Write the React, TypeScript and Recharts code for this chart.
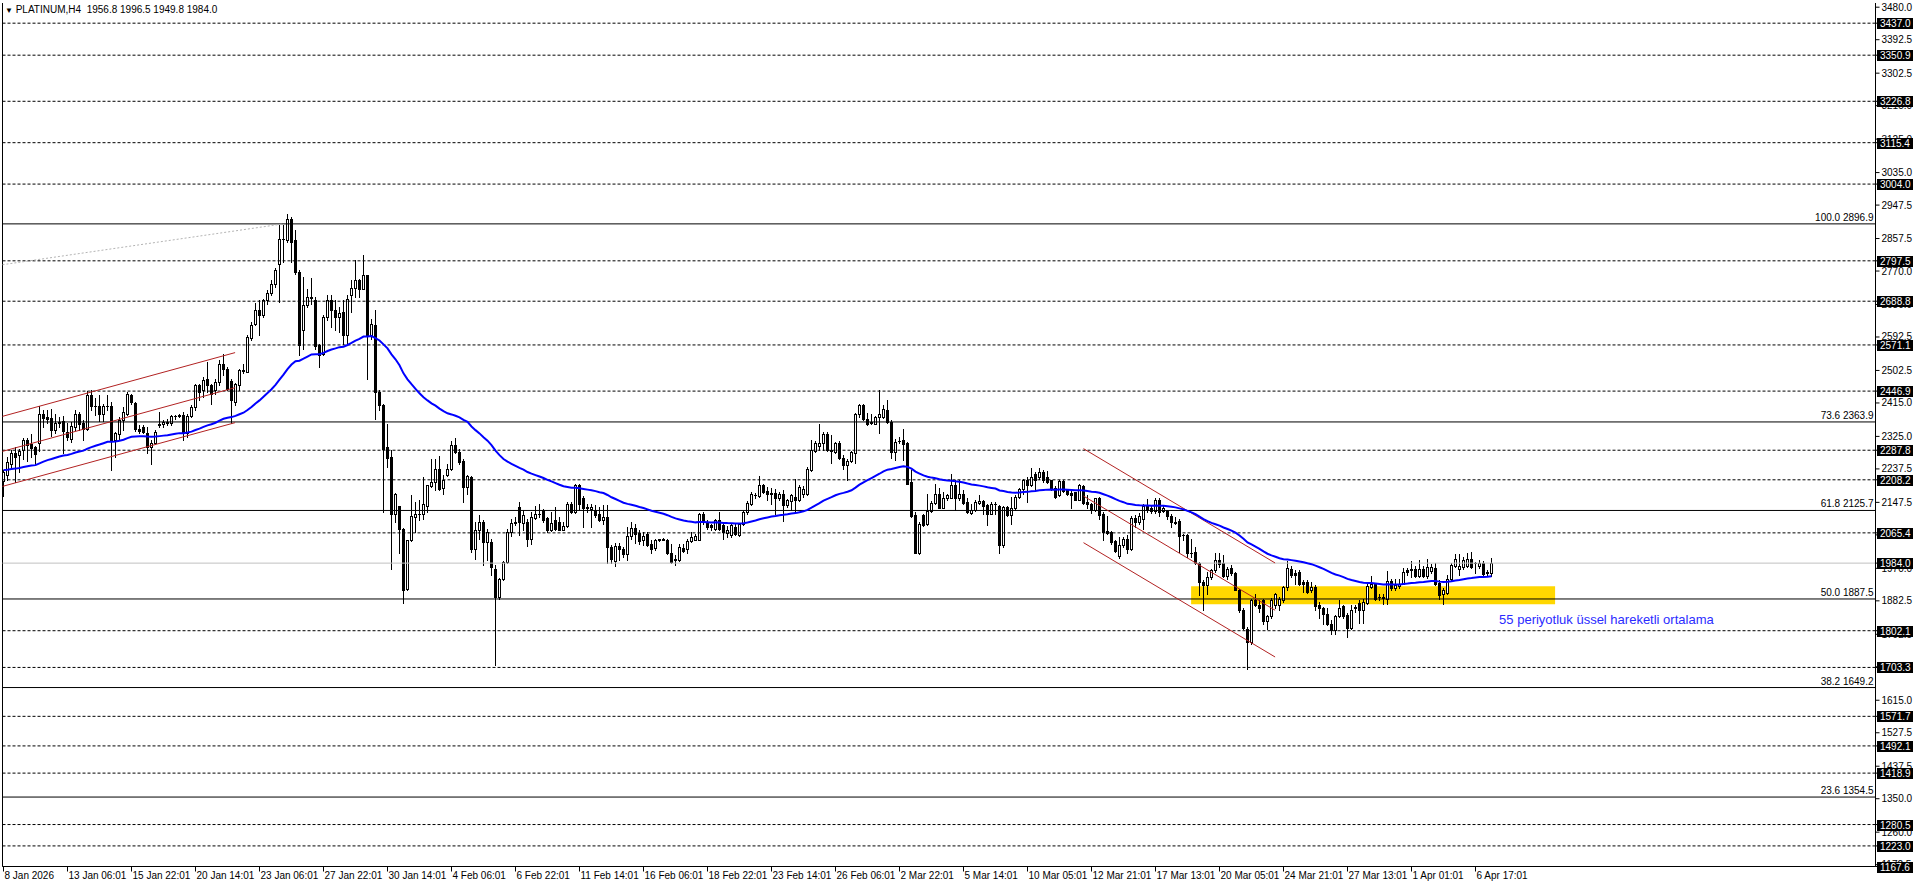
import { ComposedChart, Bar, Line, XAxis, YAxis, ReferenceLine, ReferenceArea, ReferenceDot } from 'recharts';

const FONT = '"Liberation Sans", Arial, sans-serif';

// time axis labels, one every 16 H4 bars
const timeLabels = [
  '8 Jan 2026', '13 Jan 06:01', '15 Jan 22:01', '20 Jan 14:01', '23 Jan 06:01', '27 Jan 22:01',
  '30 Jan 14:01', '4 Feb 06:01', '6 Feb 22:01', '11 Feb 14:01', '16 Feb 06:01', '18 Feb 22:01',
  '23 Feb 14:01', '26 Feb 06:01', '2 Mar 22:01', '5 Mar 14:01', '10 Mar 05:01', '12 Mar 21:01',
  '17 Mar 13:01', '20 Mar 05:01', '24 Mar 21:01', '27 Mar 13:01', '1 Apr 01:01', '6 Apr 17:01',
];
const TIME_STEP = 16;

const priceTicks = [
  3480.0, 3392.5, 3302.5, 3215.0, 3125.0, 3035.0, 2947.5, 2857.5, 2770.0, 2680.0, 2592.5, 2502.5, 2415.0,
  2325.0, 2237.5, 2147.5, 2060.0, 1970.0, 1882.5, 1792.5, 1705.0, 1615.0, 1527.5, 1437.5, 1350.0, 1260.0, 1172.5,
];

// horizontal line objects (dashed, boxed price on the axis)
const levelPrices = [
  3437.0, 3350.9, 3226.8, 3115.4, 3004.0, 2797.5, 2688.8, 2571.1, 2446.9, 2287.8, 2208.2, 2065.4,
  1802.1, 1703.3, 1571.7, 1492.1, 1418.9, 1280.5, 1223.0, 1167.6,
];

// fibonacci retracement levels
const fibPercents = ['100.0', '73.6', '61.8', '50.0', '38.2', '23.6'];
const fibPrices = [2896.9, 2363.9, 2125.7, 1887.5, 1649.2, 1354.5];

const bidPrice = 1984.0;
const EMA_PERIOD = 55;
const EMA_SEED = 2235;

const opens = [
  2205, 2221, 2252, 2280, 2275, 2288, 2314, 2305, 2296, 2306,
  2386, 2377, 2375, 2343, 2360, 2366, 2337, 2319, 2350, 2384,
  2360, 2346, 2436, 2406, 2406, 2386, 2406, 2406, 2316, 2332,
  2368, 2386, 2436, 2415, 2346, 2350, 2333, 2297, 2307, 2357,
  2359, 2362, 2360, 2379, 2381, 2382, 2333, 2379, 2404, 2462,
  2449, 2480, 2462, 2449, 2471, 2520, 2507, 2475, 2417, 2464,
  2504, 2498, 2590, 2628, 2666, 2651, 2691, 2711, 2736, 2790,
  2857, 2853, 2911, 2853, 2768, 2610, 2678, 2700, 2693, 2570,
  2546, 2646, 2691, 2664, 2645, 2659, 2597, 2705, 2725, 2745,
  2723, 2758, 2597, 2624, 2445, 2409, 2297, 2270, 2117, 2137,
  2077, 1915, 2045, 2108, 2117, 2115, 2139, 2191, 2202, 2238,
  2187, 2220, 2236, 2301, 2283, 2259, 2189, 2216, 2023, 2074,
  2095, 2041, 2041, 1969, 1893, 1942, 1987, 2068, 2092, 2135,
  2093, 2095, 2050, 2106, 2115, 2128, 2106, 2072, 2101, 2095,
  2074, 2083, 2144, 2122, 2193, 2158, 2133, 2129, 2128, 2115,
  2101, 2108, 2027, 1990, 2029, 2023, 2008, 2056, 2079, 2065,
  2047, 2063, 2036, 2026, 2047, 2048, 2047, 2010, 1996, 1993,
  2026, 2023, 2044, 2047, 2047, 2117, 2095, 2086, 2077, 2101,
  2086, 2066, 2059, 2081, 2059, 2088, 2122, 2144, 2167, 2164,
  2193, 2178, 2171, 2173, 2158, 2169, 2140, 2151, 2163, 2153,
  2171, 2171, 2234, 2286, 2298, 2306, 2332, 2289, 2283, 2307,
  2268, 2247, 2259, 2279, 2386, 2409, 2373, 2362, 2359, 2376,
  2377, 2397, 2364, 2283, 2312, 2315, 2306, 2202, 2113, 2011,
  2113, 2088, 2124, 2146, 2169, 2133, 2158, 2160, 2193, 2160,
  2171, 2149, 2119, 2128, 2146, 2151, 2140, 2117, 2143, 2137,
  2032, 2135, 2113, 2131, 2162, 2184, 2209, 2193, 2223, 2216,
  2229, 2216, 2207, 2187, 2167, 2205, 2180, 2173, 2175, 2155,
  2191, 2149, 2142, 2126, 2158, 2117, 2070, 2068, 2043, 2002,
  2032, 2050, 2023, 2106, 2095, 2104, 2137, 2133, 2124, 2153,
  2124, 2124, 2110, 2095, 2097, 2061, 2061, 2011, 2014, 1984,
  1933, 1924, 1947, 1965, 1992, 1984, 1949, 1972, 1957, 1913,
  1859, 1808, 1772, 1884, 1871, 1884, 1828, 1841, 1871, 1871,
  1884, 1920, 1969, 1957, 1960, 1933, 1933, 1911, 1920, 1871,
  1862, 1848, 1821, 1805, 1841, 1868, 1844, 1810, 1864, 1877,
  1857, 1877, 1920, 1927, 1893, 1893, 1888, 1936, 1916, 1922,
  1929, 1965, 1965, 1969, 1949, 1967, 1949, 1963, 1972, 1931,
  1900, 1904, 1942, 1976, 1969, 1974, 1976, 1996, 1983, 1976,
  1983, 1960, 1956.8,
];

const highs = [
  2235, 2270, 2288, 2296, 2290, 2320, 2320, 2332, 2300, 2406,
  2395, 2395, 2400, 2385, 2377, 2381, 2360, 2365, 2395, 2391,
  2368, 2447, 2449, 2427, 2436, 2413, 2436, 2418, 2337, 2377,
  2404, 2445, 2440, 2418, 2355, 2355, 2350, 2314, 2341, 2391,
  2368, 2372, 2382, 2382, 2384, 2391, 2386, 2409, 2467, 2467,
  2485, 2525, 2467, 2480, 2530, 2548, 2512, 2480, 2470, 2507,
  2520, 2597, 2633, 2683, 2691, 2696, 2718, 2745, 2777, 2893,
  2893, 2923, 2916, 2880, 2772, 2754, 2723, 2752, 2700, 2575,
  2651, 2705, 2705, 2691, 2673, 2691, 2705, 2745, 2799, 2749,
  2812, 2760, 2642, 2664, 2449, 2413, 2359, 2288, 2173, 2139,
  2079, 2047, 2166, 2148, 2153, 2216, 2195, 2265, 2265, 2271,
  2220, 2252, 2313, 2322, 2292, 2265, 2220, 2218, 2095, 2113,
  2099, 2077, 2050, 1978, 1945, 1990, 2077, 2104, 2108, 2149,
  2127, 2104, 2122, 2137, 2142, 2130, 2108, 2122, 2135, 2108,
  2095, 2149, 2149, 2198, 2198, 2164, 2144, 2144, 2140, 2135,
  2140, 2140, 2032, 2038, 2038, 2028, 2081, 2095, 2090, 2072,
  2068, 2068, 2045, 2050, 2050, 2051, 2050, 2035, 2005, 2036,
  2035, 2050, 2068, 2062, 2119, 2122, 2099, 2090, 2104, 2122,
  2090, 2083, 2090, 2088, 2092, 2126, 2151, 2175, 2172, 2218,
  2198, 2189, 2187, 2184, 2175, 2182, 2157, 2171, 2211, 2194,
  2191, 2243, 2315, 2313, 2359, 2337, 2337, 2328, 2310, 2313,
  2274, 2263, 2286, 2388, 2413, 2413, 2388, 2386, 2379, 2449,
  2409, 2424, 2368, 2319, 2323, 2346, 2310, 2234, 2122, 2095,
  2117, 2171, 2151, 2196, 2187, 2175, 2171, 2225, 2207, 2209,
  2180, 2158, 2144, 2155, 2167, 2153, 2144, 2149, 2149, 2140,
  2137, 2137, 2162, 2166, 2187, 2211, 2216, 2241, 2229, 2241,
  2234, 2232, 2209, 2191, 2209, 2207, 2184, 2180, 2176, 2196,
  2193, 2167, 2146, 2160, 2162, 2121, 2110, 2070, 2046, 2053,
  2054, 2059, 2110, 2113, 2119, 2142, 2157, 2140, 2158, 2158,
  2140, 2126, 2117, 2108, 2104, 2063, 2063, 2050, 2027, 1987,
  1938, 1960, 1969, 2010, 2011, 2005, 1974, 1978, 1960, 1915,
  1862, 1812, 1888, 1902, 1884, 1888, 1844, 1889, 1904, 1893,
  1922, 1990, 1975, 1965, 1966, 1938, 1938, 1933, 1924, 1880,
  1866, 1862, 1830, 1844, 1884, 1871, 1850, 1871, 1870, 1884,
  1888, 1927, 1949, 1931, 1902, 1902, 1963, 1942, 1942, 1942,
  1972, 1972, 1990, 1975, 1992, 1976, 1994, 1981, 1983, 1938,
  1918, 1951, 1983, 2008, 2008, 2001, 2011, 2014, 1987, 1992,
  1990, 1966, 1996.5,
];

const lows = [
  2164, 2207, 2243, 2202, 2229, 2265, 2260, 2270, 2252, 2286,
  2350, 2360, 2325, 2335, 2350, 2279, 2314, 2310, 2341, 2341,
  2316, 2341, 2395, 2382, 2366, 2366, 2395, 2234, 2270, 2319,
  2341, 2382, 2413, 2340, 2335, 2333, 2279, 2252, 2305, 2350,
  2350, 2355, 2355, 2373, 2378, 2315, 2323, 2377, 2395, 2422,
  2431, 2445, 2413, 2440, 2462, 2490, 2449, 2360, 2410, 2450,
  2495, 2498, 2585, 2625, 2597, 2645, 2682, 2705, 2727, 2687,
  2794, 2848, 2794, 2763, 2543, 2561, 2673, 2682, 2561, 2512,
  2543, 2637, 2619, 2610, 2606, 2573, 2575, 2660, 2700, 2700,
  2722, 2480, 2588, 2373, 2395, 2122, 2243, 1969, 2095, 2010,
  1878, 1912, 2043, 2068, 2099, 2104, 2121, 2189, 2180, 2180,
  2171, 2218, 2234, 2281, 2252, 2148, 2171, 2014, 1996, 2050,
  1978, 1992, 1951, 1710, 1888, 1938, 1984, 2058, 2086, 2059,
  2073, 2029, 2036, 2104, 2108, 2095, 2068, 2070, 2074, 2072,
  2072, 2081, 2119, 2120, 2126, 2081, 2122, 2081, 2108, 2097,
  2090, 1984, 1984, 1975, 1993, 2000, 1992, 2050, 2038, 2036,
  2032, 2029, 2011, 2018, 2044, 2045, 2008, 1983, 1978, 1991,
  2014, 2011, 2041, 2045, 2045, 2090, 2077, 2074, 2074, 2074,
  2050, 2054, 2054, 2059, 2056, 2086, 2117, 2140, 2160, 2162,
  2173, 2153, 2144, 2115, 2154, 2097, 2135, 2126, 2122, 2150,
  2162, 2167, 2232, 2284, 2288, 2288, 2286, 2254, 2280, 2265,
  2238, 2207, 2256, 2254, 2377, 2370, 2355, 2359, 2358, 2334,
  2375, 2361, 2268, 2261, 2307, 2261, 2196, 2108, 2010, 2008,
  2083, 2086, 2122, 2144, 2131, 2131, 2155, 2158, 2128, 2153,
  2142, 2119, 2117, 2124, 2142, 2117, 2086, 2115, 2117, 2011,
  2027, 2110, 2088, 2128, 2160, 2171, 2149, 2191, 2180, 2211,
  2202, 2200, 2182, 2158, 2164, 2175, 2167, 2133, 2153, 2153,
  2144, 2131, 2119, 2124, 2104, 2047, 2063, 2036, 2014, 1999,
  2028, 2011, 2019, 2081, 2090, 2077, 2122, 2120, 2119, 2110,
  2122, 2104, 2081, 2090, 2014, 2045, 2001, 2000, 1982, 1897,
  1857, 1902, 1942, 1960, 1974, 1947, 1942, 1951, 1911, 1853,
  1808, 1700, 1767, 1868, 1853, 1821, 1808, 1835, 1862, 1857,
  1880, 1913, 1947, 1927, 1926, 1906, 1904, 1906, 1859, 1835,
  1821, 1817, 1794, 1794, 1838, 1837, 1785, 1807, 1853, 1823,
  1823, 1873, 1918, 1884, 1884, 1873, 1873, 1911, 1911, 1918,
  1927, 1951, 1947, 1947, 1947, 1947, 1945, 1957, 1924, 1888,
  1875, 1902, 1938, 1974, 1951, 1967, 1974, 1972, 1957, 1972,
  1951, 1951, 1949.8,
];

const closes = [
  2228, 2256, 2281, 2270, 2285, 2314, 2303, 2294, 2278, 2386,
  2375, 2373, 2343, 2360, 2364, 2340, 2323, 2352, 2384, 2359,
  2345, 2436, 2406, 2407, 2386, 2406, 2408, 2315, 2333, 2368,
  2391, 2438, 2418, 2346, 2340, 2337, 2297, 2307, 2337, 2359,
  2364, 2363, 2379, 2381, 2382, 2333, 2379, 2404, 2462, 2445,
  2478, 2462, 2440, 2471, 2520, 2507, 2453, 2422, 2467, 2504,
  2502, 2593, 2624, 2664, 2651, 2691, 2711, 2736, 2774, 2857,
  2855, 2911, 2848, 2768, 2570, 2678, 2700, 2697, 2567, 2543,
  2646, 2691, 2664, 2645, 2657, 2597, 2696, 2725, 2745, 2723,
  2758, 2597, 2627, 2445, 2409, 2292, 2268, 2117, 2171, 2077,
  1913, 2045, 2110, 2117, 2115, 2142, 2193, 2202, 2238, 2184,
  2207, 2236, 2301, 2283, 2256, 2189, 2218, 2023, 2074, 2095,
  2041, 2068, 1974, 1893, 1942, 1987, 2068, 2092, 2095, 2095,
  2113, 2050, 2108, 2115, 2116, 2101, 2072, 2092, 2077, 2074,
  2083, 2142, 2122, 2193, 2144, 2133, 2135, 2135, 2113, 2099,
  2108, 2027, 1996, 2029, 2023, 2008, 2056, 2079, 2062, 2044,
  2058, 2032, 2023, 2047, 2048, 2047, 2010, 1987, 1992, 2027,
  2017, 2044, 2054, 2056, 2117, 2095, 2081, 2080, 2101, 2077,
  2068, 2074, 2086, 2062, 2088, 2122, 2146, 2169, 2166, 2193,
  2176, 2171, 2172, 2158, 2169, 2140, 2153, 2166, 2155, 2189,
  2184, 2238, 2288, 2306, 2306, 2332, 2288, 2287, 2307, 2268,
  2247, 2259, 2283, 2386, 2409, 2373, 2359, 2364, 2376, 2384,
  2400, 2364, 2283, 2310, 2313, 2304, 2198, 2110, 2011, 2088,
  2086, 2124, 2146, 2169, 2133, 2160, 2167, 2193, 2160, 2171,
  2146, 2122, 2128, 2149, 2151, 2137, 2117, 2144, 2144, 2032,
  2135, 2113, 2131, 2162, 2184, 2209, 2193, 2216, 2207, 2229,
  2207, 2202, 2184, 2162, 2205, 2178, 2169, 2167, 2155, 2193,
  2146, 2142, 2126, 2158, 2113, 2068, 2065, 2041, 2017, 2032,
  2050, 2023, 2106, 2095, 2110, 2137, 2126, 2124, 2153, 2122,
  2133, 2110, 2095, 2093, 2056, 2059, 2011, 2012, 1984, 1933,
  1924, 1947, 1965, 1992, 1981, 1949, 1967, 1957, 1913, 1857,
  1810, 1772, 1884, 1871, 1864, 1828, 1841, 1886, 1902, 1888,
  1920, 1972, 1951, 1951, 1929, 1929, 1906, 1920, 1868, 1862,
  1848, 1821, 1805, 1841, 1864, 1841, 1810, 1857, 1866, 1857,
  1879, 1922, 1929, 1888, 1893, 1891, 1936, 1916, 1924, 1929,
  1960, 1960, 1969, 1949, 1969, 1949, 1974, 1974, 1929, 1897,
  1911, 1942, 1978, 1996, 1976, 1992, 1996, 1974, 1983.5, 1984,
  1956, 1958, 1984.0,
];

// drawn objects, in bar index / price units: [x1, y1, x2, y2]
const risingChannel = [
  [-0.25, 2379, 57.9, 2550.5],
  [-0.25, 2284.7, 57.9, 2456.2],
  [-0.25, 2190.5, 57.9, 2362],
];
const fallingChannel = [
  [270, 2292, 317.9, 1984.4],
  [270, 2164.6, 317.9, 1857.1],
  [270, 2039, 317.9, 1731.4],
];
const fibTrend = [-0.25, 2787, 69.95, 2896.9];
const zone = [296.9, 1873, 387.9, 1922];
const noteText = '55 periyotluk üssel hareketli ortalama';
const notePos = [373.9, 1834.7];

// boxed prices go last so they paint over the plain tick labels
const boxedPrices = [...levelPrices, bidPrice];
const axisTicks = [...priceTicks, ...boxedPrices];

const alpha = 2 / (EMA_PERIOD + 1);
let emaPrev = EMA_SEED;
const data = closes.map((c, i) => {
  emaPrev = emaPrev + (c - emaPrev) * alpha;
  return { i, open: opens[i], high: highs[i], low: lows[i], close: c, range: [lows[i], highs[i]], ema: emaPrev };
});

function Candle(props: any) {
  const { x, y, width, height, payload } = props;
  if (!payload || !(height > 0)) return null;
  const { open, high, low, close } = payload;
  const k = height / (high - low);
  const py = (p: number) => Math.round(y + (high - p) * k);
  const cx = Math.floor(x + width / 2) + 0.5;
  const top = py(Math.max(open, close));
  const bot = py(Math.min(open, close));
  const bull = close > open;
  return (
    <g shapeRendering="crispEdges">
      <line x1={cx} x2={cx} y1={py(high)} y2={py(low) + 1} stroke="#000" strokeWidth={1} />
      {bot - top < 1 ? (
        <line x1={cx - 1.5} x2={cx + 1.5} y1={top + 0.5} y2={top + 0.5} stroke="#000" strokeWidth={1} />
      ) : (
        <rect x={cx - 1} y={top + 0.5} width={2} height={bot - top} fill={bull ? '#fff' : '#000'} stroke="#000" strokeWidth={1} />
      )}
    </g>
  );
}

function PriceTick(props: any) {
  const { x, y, payload, index } = props;
  const v = payload.value as number;
  const boxed = index >= priceTicks.length;
  if (boxed) {
    const yy = Math.round(y);
    return (
      <g>
        <rect x={x - 4.5} y={yy - 5} width={36} height={11} fill="#000" />
        <text x={x - 1.5} y={yy + 4} fontSize={10} fontFamily={FONT} fill="#fff">{v.toFixed(1)}</text>
      </g>
    );
  }
  return (
    <text x={x} y={y + 3.5} fontSize={10} fontFamily={FONT} fill="#000">{v.toFixed(1)}</text>
  );
}

function FibLabel(props: any) {
  const { viewBox, text } = props;
  if (!viewBox) return null;
  return (
    <text x={viewBox.x + viewBox.width - 2} y={viewBox.y - 3} textAnchor="end" fontSize={10} fontFamily={FONT} fill="#000">
      {text}
    </text>
  );
}

function NoteLabel(props: any) {
  const { viewBox } = props;
  if (!viewBox) return null;
  return (
    <text x={viewBox.x} y={viewBox.y + 5} fontSize={13} fontFamily={FONT} fill="#2b2bff">{noteText}</text>
  );
}

function TimeTick(props: any) {
  const { x, y, payload } = props;
  const label = timeLabels[Math.round(payload.value / TIME_STEP)];
  return (
    <text x={x + 1} y={y + 5} fontSize={10} fontFamily={FONT} fill="#000">{label}</text>
  );
}

export default function App() {
  return (
    <div style={{ position: 'absolute', left: 0, top: 0, width: 1916, height: 888, background: '#fff', overflow: 'hidden' }}>
      <ComposedChart width={1916} height={888} data={data} margin={{ top: 3, right: 0, left: 2.5, bottom: 0 }}>
        <XAxis
          dataKey="i"
          type="number"
          domain={[-0.25, 468]}
          allowDataOverflow
          ticks={timeLabels.map((_, k) => k * TIME_STEP)}
          interval={0}
          height={21.5}
          tickSize={5}
          tickLine={{ stroke: '#000' }}
          axisLine={{ stroke: '#000' }}
          tick={<TimeTick />}
        />
        <YAxis
          orientation="right"
          type="number"
          domain={[1167.6, 3491.3]}
          allowDataOverflow
          ticks={axisTicks}
          interval={0}
          width={40.5}
          tickSize={4}
          tickMargin={2}
          tickLine={{ stroke: '#000' }}
          axisLine={{ stroke: '#000' }}
          tick={<PriceTick />}
        />
        <ReferenceArea x1={zone[0]} y1={zone[1]} x2={zone[2]} y2={zone[3]} fill="#ffd700" fillOpacity={1} stroke="none" />
        <ReferenceLine x={-0.25} stroke="#000" />
        {levelPrices.map((p) => (
          <ReferenceLine key={'lv' + p} y={p} stroke="#000" strokeDasharray="3 2" />
        ))}
        {fibPrices.map((p, k) => (
          <ReferenceLine key={'fb' + p} y={p} stroke="#000" label={<FibLabel text={fibPercents[k] + ' ' + p.toFixed(1)} />} />
        ))}
        <ReferenceLine y={bidPrice} stroke="#c0c0c0" />
        <ReferenceLine
          segment={[{ x: fibTrend[0], y: fibTrend[1] }, { x: fibTrend[2], y: fibTrend[3] }]}
          stroke="#b4b4b4"
          strokeDasharray="2 2"
        />
        {[...risingChannel, ...fallingChannel].map((s, k) => (
          <ReferenceLine key={'ch' + k} segment={[{ x: s[0], y: s[1] }, { x: s[2], y: s[3] }]} stroke="#b22222" />
        ))}
        <Bar dataKey="range" barSize={3} shape={<Candle />} isAnimationActive={false} />
        <Line dataKey="ema" type="linear" stroke="#0000ff" strokeWidth={2} dot={false} activeDot={false} isAnimationActive={false} />
        <ReferenceDot x={notePos[0]} y={notePos[1]} r={0} fill="none" stroke="none" label={<NoteLabel />} />
      </ComposedChart>
      <div style={{ position: 'absolute', left: 5, top: 4, fontFamily: FONT, fontSize: 10, color: '#000', whiteSpace: 'pre', lineHeight: '12px' }}>
        <span style={{ fontSize: 8 }}>▼</span> PLATINUM,H4  1956.8 1996.5 1949.8 1984.0
      </div>
    </div>
  );
}
